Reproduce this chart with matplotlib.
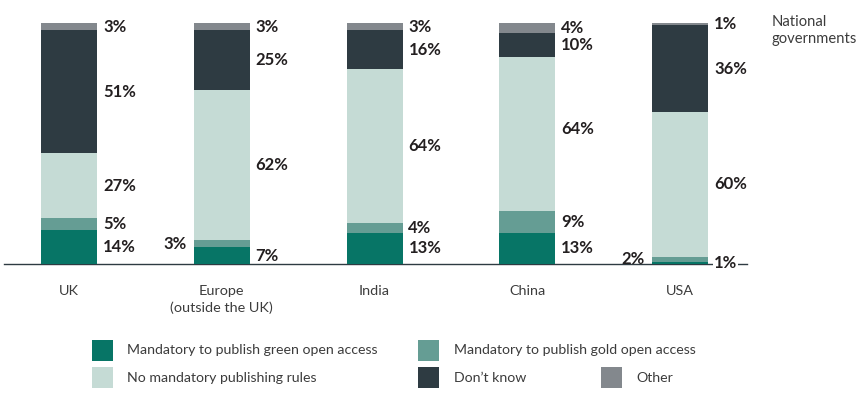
import matplotlib.pyplot as plt
import numpy as np
from matplotlib.patches import Rectangle

# Survey answers per region, % of respondents (national governments)
regions = ["UK", "Europe\n(outside the UK)", "India", "China", "USA"]
green_oa = [14, 7, 13, 13, 1]
gold_oa = [5, 3, 4, 9, 2]
no_rules = [27, 62, 64, 64, 60]
dont_know = [51, 25, 16, 10, 36]
other = [3, 3, 3, 4, 1]

series_names = [
    "Mandatory to publish green open access",
    "Mandatory to publish gold open access",
    "No mandatory publishing rules",
    "Don\u2019t know",
    "Other",
]
series = [green_oa, gold_oa, no_rules, dont_know, other]
colors = ["#077566", "#659d94", "#c5dbd5", "#2e3b42", "#83888d"]

TEXT = "#231f20"
GREY_TEXT = "#3c3c3c"
plt.rcParams["font.family"] = ["Lato", "DejaVu Sans"]

W, H = 866, 399
fig = plt.figure(figsize=(W / 100, H / 100), dpi=100)

# axes placed so the baseline sits at y=264px and 100% at y=23px
x0_px, x1_px = 4, 747
ax = fig.add_axes([x0_px / W, (H - 264) / H, (x1_px - x0_px) / W, (264 - 23) / H])
step = 152.75
ax.set_xlim((x0_px - 69) / step, (x1_px - 69) / step)
ax.set_ylim(0, 100)

x = np.arange(len(regions))
bar_w = 56 / step
bottom = np.zeros(len(regions))
for vals, col in zip(series, colors):
    ax.bar(x, vals, bar_w, bottom=bottom, color=col, zorder=3, linewidth=0)
    bottom += np.array(vals)

# value labels; small gold shares go to the left of the bar
left_side = {(1, 1), (4, 1)}
nudge = {(3, 2): 2.0}
pad = 7 / step
for i in range(len(regions)):
    base = 0
    for k, vals in enumerate(series):
        v = vals[i]
        yc = base + v / 2 + nudge.get((i, k), 0)
        base += v
        if (i, k) in left_side:
            ax.text(i - bar_w / 2 - pad, yc, f"{v}%", ha="right", va="center",
                    fontsize=12, fontweight="bold", color=TEXT, zorder=4)
        else:
            kw = {}
            if i == 4 and k == 0:
                kw["bbox"] = dict(facecolor="white", edgecolor="none", pad=0.6)
            ax.text(i + bar_w / 2 + pad * 0.85, yc, f"{v}%", ha="left", va="center",
                    fontsize=12, fontweight="bold", color=TEXT, zorder=4, **kw)

for s in ["top", "right", "left"]:
    ax.spines[s].set_visible(False)
ax.spines["bottom"].set_color("#2e3b42")
ax.spines["bottom"].set_linewidth(1.0)
ax.set_yticks([])
ax.set_xticks(x)
ax.set_xticklabels(regions, fontsize=10.4, color=GREY_TEXT, linespacing=1.4)
ax.tick_params(axis="x", length=0, pad=15)

fig.text(772 / W, 1 - 15 / H, "National\ngovernments", ha="left", va="top",
         fontsize=10.6, color=GREY_TEXT, linespacing=1.25)

# legend drawn by hand to follow the reference layout
legend_pos = [(92, 340), (418, 340), (92, 367), (418, 367), (601, 367)]
text_dx = [35, 36, 35, 36, 35]
for (lx, ly), dx, name, col in zip(legend_pos, text_dx, series_names, colors):
    fig.add_artist(Rectangle((lx / W, 1 - (ly + 21) / H), 21 / W, 21 / H,
                             transform=fig.transFigure, color=col, linewidth=0))
    fig.text((lx + dx) / W, 1 - (ly + 10.5) / H, name, ha="left", va="center",
             fontsize=10.2, color=GREY_TEXT)

fig.savefig("out.png", dpi=100, facecolor="white")
